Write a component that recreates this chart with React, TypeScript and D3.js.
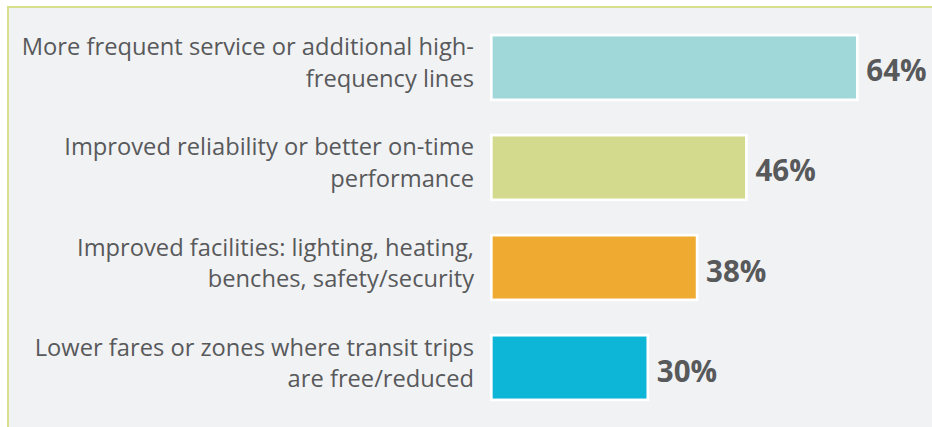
import React from "react";
import * as d3 from "d3";

const categories: string[][] = [
  ["More frequent service or additional high-", "frequency lines"],
  ["Improved reliability or better on-time", "performance"],
  ["Improved facilities: lighting, heating,", "benches, safety/security"],
  ["Lower fares or zones where transit trips", "are free/reduced"],
];
const values: number[] = [64, 46, 38, 30];
const colors: string[] = ["#A0D8D9", "#D3DA8E", "#EEAA31", "#0DB6D6"];

const W = 932;
const H = 427;

export default function App() {
  const x = d3.scaleLinear().domain([0, 64]).range([463, 857.3]);
  const y = d3
    .scaleBand<number>()
    .domain(d3.range(values.length))
    .range([17.5, 417.5])
    .paddingInner(0.353)
    .paddingOuter(0.176);
  const barLeft = 491.3;
  const textColor = "#58595B";
  const font = "'Open Sans', 'Noto Sans', sans-serif";

  return (
    <svg
      width={W}
      height={H}
      style={{ position: "absolute", left: 0, top: 0, background: "#ffffff" }}
    >
      <rect x={7} y={6} width={W} height={H} fill="#F1F2F4" />
      <line x1={8} y1={6} x2={8} y2={H} stroke="#D9E08C" strokeWidth={2} />
      <line x1={7} y1={7} x2={W} y2={7} stroke="#D9E08C" strokeWidth={2} />
      {values.map((v, i) => {
        const y0 = y(i) as number;
        const bh = y.bandwidth();
        const cy = y0 + bh / 2;
        return (
          <g key={i}>
            <rect
              x={barLeft}
              y={y0}
              width={x(v) - barLeft}
              height={bh}
              fill={colors[i]}
              stroke="#ffffff"
              strokeWidth={2.7}
            />
            <text
              x={474}
              y={cy - 12}
              textAnchor="end"
              fill={textColor}
              fontFamily={font}
              fontSize={23.7}
            >
              <tspan x={474} dy={0}>{categories[i][0]}</tspan>
              <tspan x={474} dy={31.5}>{categories[i][1]}</tspan>
            </text>
            <text
              x={x(v) + 9}
              y={cy + 14}
              fill={textColor}
              fontFamily={font}
              fontWeight={700}
              fontSize={29.5}
            >
              {v}%
            </text>
          </g>
        );
      })}
    </svg>
  );
}
